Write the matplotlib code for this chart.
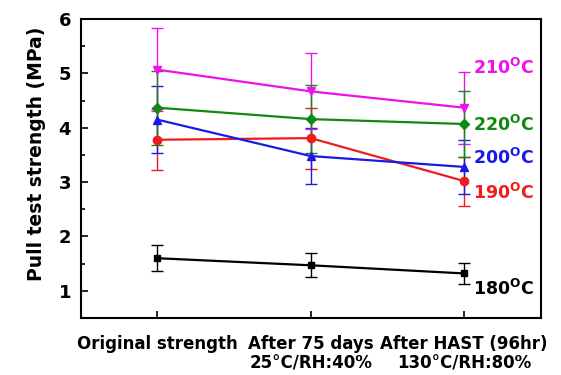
import numpy as np
import matplotlib.pyplot as plt
import matplotlib as mpl

mpl.rcParams['font.family'] = ['DejaVu Sans']
mpl.rcParams['font.weight'] = 'bold'
mpl.rcParams['mathtext.fontset'] = 'custom'
mpl.rcParams['mathtext.rm'] = 'DejaVu Sans:bold'
mpl.rcParams['mathtext.bf'] = 'DejaVu Sans:bold'

stages = ['Original strength', 'After 75 days\n25\u00b0C/RH:40%', 'After HAST (96hr)\n130\u00b0C/RH:80%']
temps = ['180', '190', '200', '210', '220']
mean_180 = [1.60, 1.47, 1.32]
err_180 = [0.24, 0.22, 0.20]
mean_190 = [3.78, 3.81, 3.02]
err_190 = [0.56, 0.56, 0.45]
mean_200 = [4.15, 3.48, 3.28]
err_200 = [0.62, 0.52, 0.49]
mean_210 = [5.07, 4.67, 4.37]
err_210 = [0.76, 0.70, 0.66]
mean_220 = [4.37, 4.16, 4.07]
err_220 = [0.68, 0.62, 0.61]
label_y = [1.04, 2.81, 3.45, 5.10, 4.06]

means = [mean_180, mean_190, mean_200, mean_210, mean_220]
errs = [err_180, err_190, err_200, err_210, err_220]
colors = ['black', '#ee1c1c', '#1a1ae6', '#ee11ee', '#118811']
markers = ['s', 'o', '^', 'v', 'D']
msizes = [5, 6, 6, 6, 5]

fig = plt.figure(figsize=(5.61, 3.75), dpi=100)
ax = fig.add_axes([0.144, 0.152, 0.820, 0.797])
x = np.arange(len(stages))

for m, e, c, mk, ms, t, ly in zip(means, errs, colors, markers, msizes, temps, label_y):
    ax.errorbar(x, m, yerr=e, color=c, marker=mk, ms=ms, lw=1.6,
                elinewidth=1.0, capsize=4, capthick=1.0)
    ax.text(2.06, ly, t + r'$^{\rm O}$C', color=c, fontsize=12.5,
            fontweight='bold', va='center', ha='left')

ax.set_xlim(-0.5, 2.5)
ax.set_ylim(0.5, 6)
ax.set_xticks(x)
ax.set_xticklabels(stages, fontsize=12, fontweight='bold', linespacing=1.1)
ax.set_yticks([1, 2, 3, 4, 5, 6])
ax.set_yticks(np.arange(1.5, 6, 1), minor=True)
ax.tick_params(axis='y', which='major', direction='in', length=5, width=1.2, labelsize=13, pad=7)
ax.tick_params(axis='y', which='minor', direction='in', length=3, width=1.2)
ax.tick_params(axis='x', direction='in', length=5, width=1.2, pad=12)
ax.set_ylabel('Pull test strength (MPa)', fontsize=13.5, fontweight='bold', labelpad=9, y=0.55)
for s in ax.spines.values():
    s.set_linewidth(1.5)

fig.savefig('out.png', dpi=100)
